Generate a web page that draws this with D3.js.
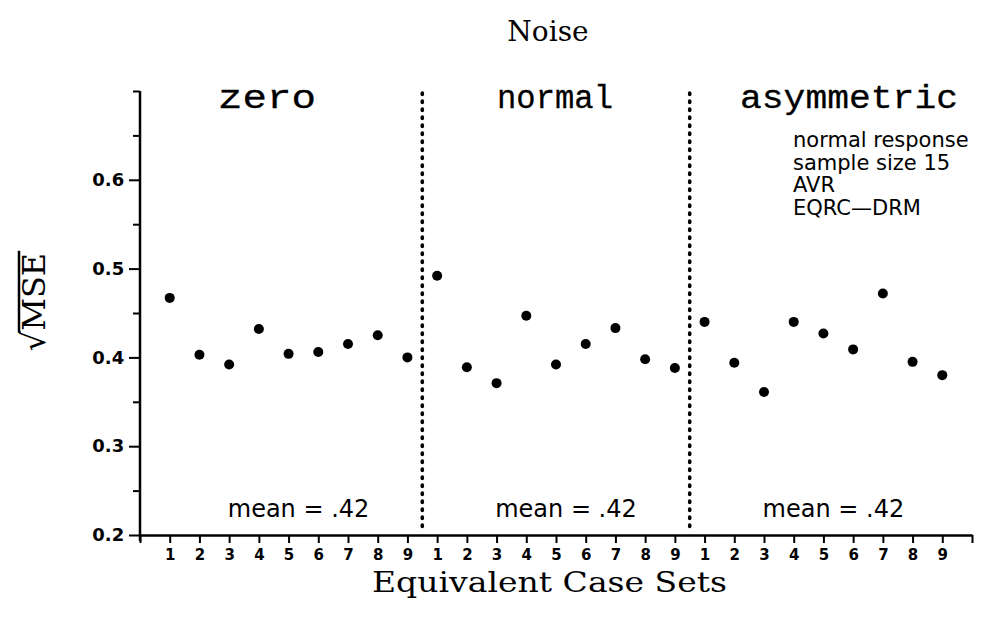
<!DOCTYPE html>
<html>
<head>
<meta charset="utf-8">
<script src="https://cdn.jsdelivr.net/npm/d3@7"></script>
<style>
  html, body { margin: 0; padding: 0; background: #fff; }
  svg { display: block; }
</style>
</head>
<body>
<svg id="chart" width="1007" height="620"></svg>
<script>
// ---- data ----
const groups = ["zero", "normal", "asymmetric"];
const zeroVals = [0.467, 0.403, 0.392, 0.432, 0.404, 0.406, 0.415, 0.425, 0.400];
const normalVals = [0.492, 0.389, 0.371, 0.447, 0.392, 0.415, 0.433, 0.398, 0.388];
const asymVals = [0.440, 0.394, 0.361, 0.440, 0.427, 0.409, 0.472, 0.395, 0.380];
const caseLabels = ["1", "2", "3", "4", "5", "6", "7", "8", "9"];
const meanLabels = ["mean = .42", "mean = .42", "mean = .42"];
const yMajor = [0.2, 0.3, 0.4, 0.5, 0.6];
const yMinor = [0.25, 0.35, 0.45, 0.55, 0.65, 0.7];
const notes = ["normal response", "sample size 15", "AVR", "EQRC\u2014DRM"];
const title = "Noise";
const xTitle = "Equivalent Case Sets";

const series = [zeroVals, normalVals, asymVals];
const nCases = caseLabels.length;

const svg = d3.select("#chart");
const x = d3.scaleLinear().domain([0, groups.length * nCases + 1]).range([140, 972]);
const y = d3.scaleLinear().domain([0.2, 0.7]).range([535, 91]);

const posOf = (g, i) => g * nCases + i + 1;

// x axis
const xAxis = d3.axisBottom(x)
  .tickValues(d3.range(0, groups.length * nCases + 2))
  .tickSize(8).tickSizeOuter(0)
  .tickFormat(d => (d === 0 || d === groups.length * nCases + 1) ? "" : caseLabels[(d - 1) % nCases]);
const gx = svg.append("g").attr("transform", `translate(0,${y(0.2)})`).call(xAxis);
gx.select(".domain").attr("stroke", "#000").attr("stroke-width", 2.5);
gx.selectAll(".tick line").attr("stroke", "#000").attr("stroke-width", 2);
gx.selectAll(".tick text").attr("font-family", "DejaVu Sans").attr("font-weight", "bold")
  .attr("font-size", 15).attr("fill", "#000").attr("dy", "0.9em");

// y axis
const yAxis = d3.axisLeft(y).tickValues(yMajor).tickSize(11).tickSizeOuter(0)
  .tickFormat(d3.format(".1f"));
const gy = svg.append("g").attr("transform", `translate(${x(0)},0)`).call(yAxis);
gy.select(".domain").remove();
gy.selectAll(".tick line").attr("stroke", "#000").attr("stroke-width", 2);
gy.selectAll(".tick text").attr("font-family", "DejaVu Sans").attr("font-weight", "bold")
  .attr("font-size", 18).attr("fill", "#000").attr("dx", "-0.1em");
const gy2 = svg.append("g").attr("transform", `translate(${x(0)},0)`)
  .call(d3.axisLeft(y).tickValues(yMinor).tickSize(7).tickSizeOuter(0).tickFormat(""));
gy2.select(".domain").remove();
gy2.selectAll(".tick line").attr("stroke", "#000").attr("stroke-width", 2);
// y axis line (extends a little below the x axis)
svg.append("line").attr("x1", x(0)).attr("x2", x(0))
  .attr("y1", y(0.7)).attr("y2", y(0.2) + 6)
  .attr("stroke", "#000").attr("stroke-width", 2.5);

// dotted dividers
for (let g = 1; g < groups.length; g++) {
  const xv = x(g * nCases + 0.5);
  svg.append("line").attr("x1", xv).attr("x2", xv)
    .attr("y1", y(0.7) + 2).attr("y2", y(0.2) - 2)
    .attr("stroke", "#000").attr("stroke-width", 3.6)
    .attr("stroke-linecap", "round").attr("stroke-dasharray", "1.5,6.5");
}

// points
series.forEach((vals, g) => {
  svg.append("g").selectAll("circle").data(vals).join("circle")
    .attr("cx", (d, i) => x(posOf(g, i)))
    .attr("cy", d => y(d))
    .attr("r", 5)
    .attr("fill", "#000");
});

// group labels
const groupX = [267, 555, 849];
const groupW = [98, 116, 218];
groups.forEach((gname, g) => {
  svg.append("text").attr("x", groupX[g] - groupW[g] / 2).attr("y", 108)
    .attr("font-family", "Liberation Mono").attr("font-size", 34)
    .attr("textLength", groupW[g]).attr("lengthAdjust", "spacingAndGlyphs")
    .attr("stroke", "#000").attr("stroke-width", 0.3)
    .attr("fill", "#000").text(gname);
});

// mean labels
meanLabels.forEach((m, g) => {
  svg.append("text").attr("x", x(g * nCases + 5) + 10).attr("y", 517)
    .attr("text-anchor", "middle")
    .attr("font-family", "DejaVu Sans").attr("font-size", 24)
    .attr("fill", "#000").text(m);
});

// notes
notes.forEach((t, i) => {
  svg.append("text").attr("x", 793).attr("y", 147 + i * 22.5)
    .attr("font-family", "DejaVu Sans").attr("font-size", 21)
    .attr("fill", "#000").text(t);
});

// title
svg.append("text").attr("x", 548).attr("y", 41).attr("text-anchor", "middle")
  .attr("font-family", "DejaVu Serif").attr("font-size", 28).attr("fill", "#000").text(title);

// x title
svg.append("text").attr("x", 372).attr("y", 592)
  .attr("font-family", "DejaVu Serif").attr("font-size", 28)
  .attr("textLength", 355).attr("lengthAdjust", "spacingAndGlyphs")
  .attr("fill", "#000").text(xTitle);

// y title: sqrt(MSE)
const yl = svg.append("g").attr("transform", "translate(45,302) rotate(-90)");
const rad = yl.append("text").attr("font-family", "DejaVu Serif").attr("font-size", 32)
  .attr("fill", "#000").attr("text-anchor", "start");
rad.append("tspan").attr("class", "r").text("\u221A");
rad.append("tspan").attr("class", "m").text("MSE");
const totalW = rad.node().getComputedTextLength();
rad.attr("x", -totalW / 2);
const rW = rad.select(".r").node().getComputedTextLength();
yl.append("line").attr("x1", -totalW / 2 + rW - 2).attr("x2", totalW / 2 + 2)
  .attr("y1", -26).attr("y2", -26).attr("stroke", "#000").attr("stroke-width", 2.5);
</script>
</body>
</html>
